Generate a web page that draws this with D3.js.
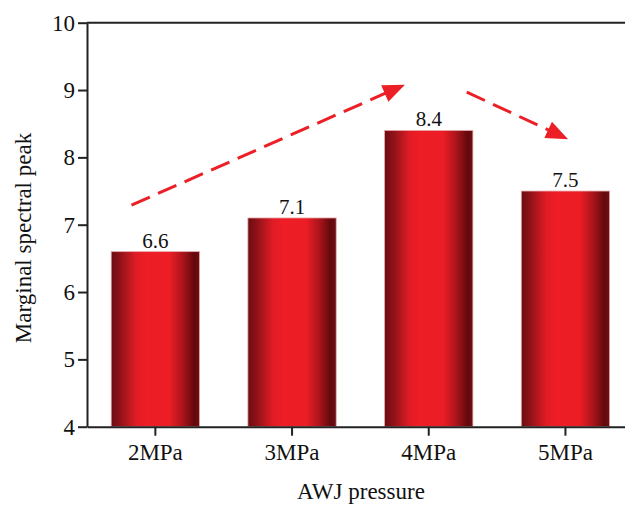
<!DOCTYPE html>
<html>
<head>
<meta charset="utf-8">
<script src="https://cdn.jsdelivr.net/npm/d3@7"></script>
<style>
  html, body { margin: 0; padding: 0; background: #fff; }
  svg { display: block; font-family: "Liberation Serif", "Times New Roman", serif; }
</style>
</head>
<body>
<svg id="chart" width="625" height="507"></svg>
<script>
// Marginal spectral peak for each abrasive water-jet pressure
const categories = ["2MPa", "3MPa", "4MPa", "5MPa"];
const peaks = [6.6, 7.1, 8.4, 7.5];
const yTicks = [4, 5, 6, 7, 8, 9, 10];

// Trend arrows: endpoints given as category, offset (fraction of bar width), value
const trendArrows = [
  { from: ["2MPa", -0.27, 7.29], to: ["4MPa", -0.27, 9.08] },
  { from: ["4MPa", 0.43, 8.97], to: ["5MPa", 0.03, 8.27] }
];

(function drawChart() {
  const svg = d3.select("#chart");
  const W = 625;
  const plotLeft = 87, plotTop = 22.7, plotBottom = 426.7;
  const step = 136.7;

  const x = d3.scaleBand()
    .domain(categories)
    .range([plotLeft, plotLeft + step * categories.length])
    .paddingInner(0.354)
    .paddingOuter(0.177);

  const y = d3.scaleLinear().domain([4, 10]).range([plotBottom, plotTop]);

  // Horizontal shading for the bars
  const defs = svg.append("defs");
  const grad = defs.append("linearGradient")
    .attr("id", "barShade")
    .attr("x1", "0").attr("x2", "1").attr("y1", "0").attr("y2", "0");
  [
    [0, "#6a0d12"], [0.1, "#8e1218"], [0.28, "#e01c24"], [0.4, "#ee1d26"],
    [0.66, "#ec1d25"], [0.8, "#b0151c"], [0.94, "#62090d"], [1, "#6e0e12"]
  ].forEach(([o, c]) => grad.append("stop").attr("offset", o).attr("stop-color", c));

  // Bars
  svg.append("g").selectAll("rect")
    .data(categories)
    .join("rect")
    .attr("x", d => x(d))
    .attr("y", (d, i) => y(peaks[i]))
    .attr("width", x.bandwidth())
    .attr("height", (d, i) => y(4) - y(peaks[i]))
    .attr("fill", "url(#barShade)")
    .attr("stroke", "#e6a9ab")
    .attr("stroke-width", 0.8);

  // Value labels
  svg.append("g").selectAll("text")
    .data(categories)
    .join("text")
    .attr("x", d => x(d) + x.bandwidth() / 2)
    .attr("y", (d, i) => y(peaks[i]) - 4)
    .attr("text-anchor", "middle")
    .attr("font-size", 21)
    .attr("fill", "#111")
    .text((d, i) => peaks[i].toFixed(1));

  // Axes
  const axisColor = "#222";
  const yAxis = svg.append("g")
    .attr("transform", `translate(${plotLeft},0)`)
    .call(d3.axisLeft(y).tickValues(yTicks).tickSize(9).tickSizeOuter(0).tickPadding(3).tickFormat(d3.format("d")));
  const xAxis = svg.append("g")
    .attr("transform", `translate(0,${plotBottom})`)
    .call(d3.axisBottom(x).tickSize(9).tickSizeOuter(0).tickPadding(7.5));

  [yAxis, xAxis].forEach(g => {
    g.select(".domain").attr("stroke", axisColor).attr("stroke-width", 2);
    g.selectAll(".tick line").attr("stroke", axisColor).attr("stroke-width", 2);
    g.selectAll(".tick text")
      .attr("font-size", 23)
      .attr("font-family", "Liberation Serif, Times New Roman, serif")
      .attr("fill", "#111");
  });

  // Top frame line
  svg.append("line")
    .attr("x1", plotLeft).attr("x2", W)
    .attr("y1", plotTop).attr("y2", plotTop)
    .attr("stroke", axisColor).attr("stroke-width", 2);

  // Axis titles
  svg.append("text")
    .attr("x", 361).attr("y", 499)
    .attr("text-anchor", "middle")
    .attr("font-size", 23)
    .attr("fill", "#111")
    .text("AWJ pressure");

  svg.append("text")
    .attr("transform", "translate(30.5,238) rotate(-90)")
    .attr("text-anchor", "middle")
    .attr("font-size", 23)
    .attr("fill", "#111")
    .text("Marginal spectral peak");

  // Dashed trend arrows
  const pt = ([c, f, v]) => [x(c) + x.bandwidth() * (0.5 + f), y(v)];
  const red = "#ec1f27";
  const headLen = 22, headHalf = 9;
  const arrows = svg.append("g");
  trendArrows.forEach(a => {
    const [x0, y0] = pt(a.from);
    const [x1, y1] = pt(a.to);
    const ang = Math.atan2(y1 - y0, x1 - x0);
    const bx = x1 - headLen * Math.cos(ang), by = y1 - headLen * Math.sin(ang);
    arrows.append("line")
      .attr("x1", x0).attr("y1", y0)
      .attr("x2", bx + 2 * Math.cos(ang)).attr("y2", by + 2 * Math.sin(ang))
      .attr("stroke", red)
      .attr("stroke-width", 3)
      .attr("stroke-dasharray", "20,9");
    const nx = -Math.sin(ang), ny = Math.cos(ang);
    arrows.append("path")
      .attr("d", d3.line()([
        [x1, y1],
        [bx + nx * headHalf, by + ny * headHalf],
        [bx - nx * headHalf, by - ny * headHalf]
      ]) + "Z")
      .attr("fill", red);
  });
})();
</script>
</body>
</html>
